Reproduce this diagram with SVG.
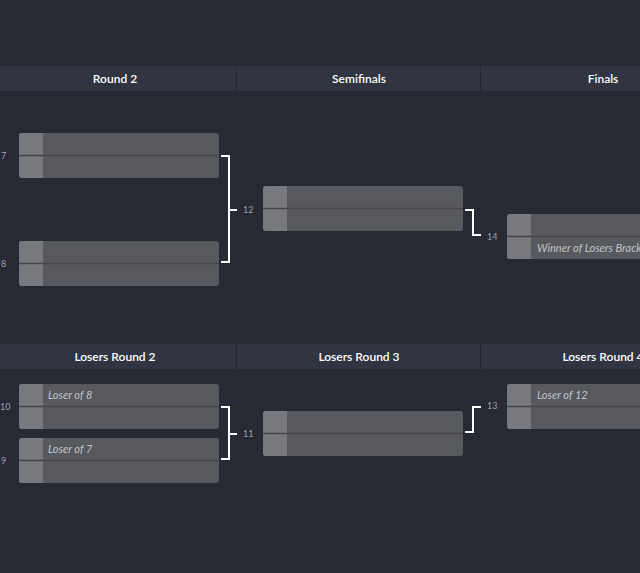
<svg xmlns="http://www.w3.org/2000/svg" width="640" height="573" viewBox="0 0 640 573">
<style>
.bg{fill:#272a33}
.hdr{fill:#313441}
.hsep{stroke:#252830;stroke-width:1}
.htxt{font-family:Lato,"Noto Sans",sans-serif;font-size:12px;fill:#ffffff;font-weight:600;text-anchor:middle}
.body{fill:#58595e}
.seed{fill:#78797e}
.div{stroke:#45464c;stroke-width:1.3}
.name{font-family:Lato,"Noto Sans",sans-serif;font-size:11px;font-style:italic;fill:#c2c3c9}
.num{font-family:Lato,"Noto Sans",sans-serif;font-size:9px;fill:#9aa0b0}
.con{fill:none;stroke:#ffffff;stroke-width:2}
</style>
<defs>
<clipPath id="mc"><rect x="0" y="0" width="200" height="45" rx="3"/></clipPath>
<g id="match">
<g clip-path="url(#mc)">
<rect class="body" x="0" y="0" width="200" height="45"/>
<rect class="seed" x="0" y="0" width="24" height="45"/>
</g>
<line class="div" x1="0" y1="22.5" x2="200" y2="22.5"/>
</g>
</defs>
<rect class="bg" x="0" y="0" width="640" height="573"/>

<g id="header-winners">
<rect class="hdr" x="0" y="66" width="640" height="25"/>
<line class="hsep" x1="236.5" y1="66" x2="236.5" y2="91"/>
<line class="hsep" x1="480.5" y1="66" x2="480.5" y2="91"/>
<text class="htxt" x="115" y="83">Round 2</text>
<text class="htxt" x="359" y="83">Semifinals</text>
<text class="htxt" x="603" y="83">Finals</text>
</g>

<g id="header-losers">
<rect class="hdr" x="0" y="344" width="640" height="25"/>
<line class="hsep" x1="236.5" y1="344" x2="236.5" y2="369"/>
<line class="hsep" x1="480.5" y1="344" x2="480.5" y2="369"/>
<text class="htxt" x="115" y="361">Losers Round 2</text>
<text class="htxt" x="359" y="361">Losers Round 3</text>
<text class="htxt" x="603" y="361">Losers Round 4</text>
</g>

<g id="m7">
<use href="#match" x="19" y="133"/>
<text class="num" x="1" y="159">7</text>
</g>
<g id="m8">
<use href="#match" x="19" y="241"/>
<text class="num" x="1" y="267">8</text>
</g>
<g id="m12">
<use href="#match" x="263" y="186"/>
<text class="num" x="243" y="213">12</text>
</g>
<g id="m14">
<use href="#match" x="507" y="214"/>
<text class="name" x="537" y="252">Winner of Losers Bracket</text>
<text class="num" x="487" y="240">14</text>
</g>

<g id="m10">
<use href="#match" x="19" y="384"/>
<text class="name" x="48" y="399">Loser of 8</text>
<text class="num" x="0" y="410">10</text>
</g>
<g id="m9">
<use href="#match" x="19" y="438"/>
<text class="name" x="48" y="453">Loser of 7</text>
<text class="num" x="1" y="464">9</text>
</g>
<g id="m11">
<use href="#match" x="263" y="411"/>
<text class="num" x="243" y="437">11</text>
</g>
<g id="m13">
<use href="#match" x="507" y="384"/>
<text class="name" x="537" y="399">Loser of 12</text>
<text class="num" x="487" y="409">13</text>
</g>

<g id="connectors">
<path class="con" d="M221 156 H229 V262 H221 M229 210 H237"/>
<path class="con" d="M465 210 H473 V235 H481"/>
<path class="con" d="M221 407 H229 V459 H221 M229 434 H237"/>
<path class="con" d="M465 432 H473 V407 H481"/>
</g>
</svg>
